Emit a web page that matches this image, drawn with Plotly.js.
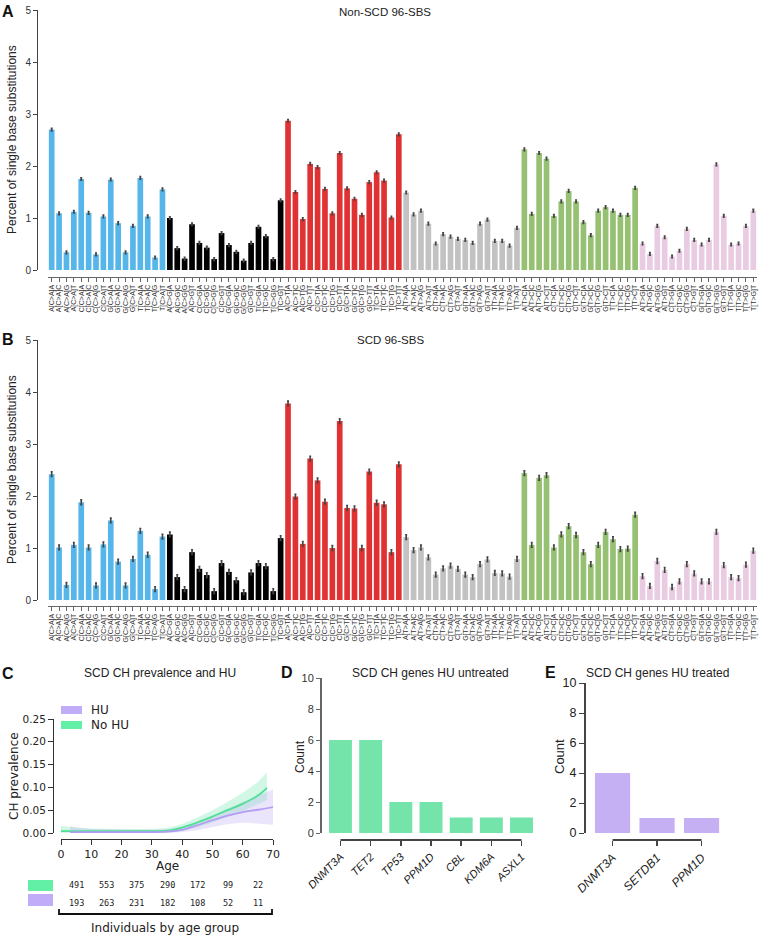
<!DOCTYPE html>
<html><head><meta charset="utf-8">
<script src="https://cdn.plot.ly/plotly-3.0.1.min.js"></script>
<style>html,body{margin:0;padding:0;background:#fff}#chart{width:767px;height:944px}</style>
</head><body><div id="chart"></div>
<script>
// ---------- DATA ----------
const mutationTypes = ['C>A','C>G','C>T','T>A','T>C','T>G'];
const flankBases = ['A','C','G','T'];
const nonScdSBS = [
2.70,1.09,0.34,1.12,1.75,1.10,0.30,1.03,1.74,0.90,0.34,0.85,1.77,1.03,0.24,1.55,
1.00,0.42,0.22,0.88,0.52,0.43,0.21,0.71,0.48,0.35,0.18,0.52,0.83,0.65,0.21,1.34,
2.87,1.50,0.98,2.04,1.98,1.56,1.09,2.25,1.57,1.37,1.06,1.69,1.88,1.72,1.01,2.61,
1.49,1.07,1.14,0.89,0.51,0.69,0.64,0.60,0.58,0.52,0.89,0.97,0.56,0.56,0.47,0.81,
2.32,1.08,2.25,2.14,1.04,1.32,1.52,1.32,0.92,0.67,1.14,1.21,1.14,1.06,1.06,1.58,
0.51,0.31,0.85,0.63,0.26,0.37,0.79,0.58,0.49,0.58,2.03,1.04,0.49,0.51,0.85,1.14];
const scdSBS = [
2.42,1.01,0.29,1.06,1.88,1.01,0.28,1.07,1.53,0.74,0.28,0.79,1.33,0.87,0.21,1.22,
1.26,0.44,0.21,0.92,0.60,0.48,0.17,0.71,0.54,0.38,0.15,0.53,0.71,0.65,0.17,1.19,
3.78,1.99,1.08,2.72,2.30,1.89,1.00,3.44,1.77,1.76,1.00,2.47,1.87,1.84,0.92,2.61,
1.21,0.96,1.01,0.82,0.49,0.61,0.66,0.60,0.49,0.44,0.69,0.78,0.52,0.51,0.45,0.79,
2.44,1.06,2.35,2.40,1.01,1.26,1.42,1.25,0.92,0.69,1.06,1.31,1.17,0.98,0.99,1.64,
0.46,0.27,0.75,0.58,0.25,0.36,0.69,0.51,0.36,0.36,1.31,0.67,0.44,0.42,0.68,0.95];

const noHuAge   = [0,5,10,15,20,25,30,35,40,45,50,55,60,65,68];
const noHuMean  = [0.004,0.004,0.004,0.004,0.004,0.004,0.004,0.005,0.012,0.023,0.036,0.050,0.064,0.082,0.099];
const noHuUpper = [0.016,0.012,0.010,0.009,0.009,0.009,0.009,0.011,0.020,0.034,0.050,0.068,0.088,0.112,0.133];
const noHuLower = [0,0,0,0,0,0,0,0.001,0.005,0.012,0.023,0.035,0.048,0.063,0.072];
const huAge   = [3,5,10,15,20,25,30,35,40,45,50,55,60,65,70];
const huMean  = [0.002,0.002,0.002,0.002,0.002,0.002,0.002,0.003,0.007,0.017,0.028,0.038,0.046,0.051,0.057];
const huUpper = [0.014,0.012,0.009,0.008,0.007,0.007,0.007,0.008,0.013,0.025,0.039,0.054,0.068,0.081,0.096];
const huLower = [0,0,0,0,0,0,0,0,0.002,0.006,0.013,0.019,0.023,0.021,0.018];
const ageGroupMid = [5,15,25,35,45,55,65];
const noHuCounts = [491,553,375,290,172,99,22];
const huCounts   = [193,263,231,182,108,52,11];

const untreatedGenes  = ['DNMT3A','TET2','TP53','PPM1D','CBL','KDM6A','ASXL1'];
const untreatedCounts = [6,6,2,2,1,1,1];
const treatedGenes  = ['DNMT3A','SETDB1','PPM1D'];
const treatedCounts = [4,1,1];

// ---------- BUILD ----------
const W = 767, H = 944;
const px = x => x / W, py = y => 1 - y / H;
const typeColors = ['#56b6e9','#000000','#e03232','#c2c2c2','#96c173','#e9cbe2'];
const labels = [], barColors = [];
mutationTypes.forEach((m, mi) => {
  flankBases.forEach(a => flankBases.forEach(b => {
    labels.push(a + '[' + m + ']' + b);
    barColors.push(typeColors[mi]);
  }));
});
const FONT = 'Liberation Sans, Arial, sans-serif';
const MPL = 'DejaVu Sans, sans-serif';
const GREEN = '#5fe6a1', PURPLE = '#b8a3f4';

function sbsTrace(vals, xa, ya, err) {
  return {type:'bar', x: labels, y: vals, xaxis: xa, yaxis: ya, width: 0.77,
    marker:{color: barColors, line:{width:0}},
    error_y:{type:'constant', value: err, color:'#444', thickness:1.6, width:1},
    showlegend:false, hoverinfo:'x+y'};
}
const traces = [
  sbsTrace(nonScdSBS, 'x', 'y', 0.025),
  sbsTrace(scdSBS, 'x2', 'y2', 0.045),
  {x: noHuAge, y: noHuLower, xaxis:'x3', yaxis:'y3', mode:'lines', line:{width:0, color:GREEN}, showlegend:false, hoverinfo:'skip'},
  {x: noHuAge, y: noHuUpper, xaxis:'x3', yaxis:'y3', mode:'lines', line:{width:0, color:GREEN}, fill:'tonexty', fillcolor:'rgba(95,230,161,0.28)', showlegend:false, hoverinfo:'skip'},
  {x: huAge, y: huLower, xaxis:'x3', yaxis:'y3', mode:'lines', line:{width:0, color:PURPLE}, showlegend:false, hoverinfo:'skip'},
  {x: huAge, y: huUpper, xaxis:'x3', yaxis:'y3', mode:'lines', line:{width:0, color:PURPLE}, fill:'tonexty', fillcolor:'rgba(184,163,244,0.28)', showlegend:false, hoverinfo:'skip'},
  {x: noHuAge, y: noHuMean, xaxis:'x3', yaxis:'y3', mode:'lines', line:{width:1.8, color:'#4fdf95', shape:'spline'}, name:'No HU', showlegend:false},
  {x: huAge, y: huMean, xaxis:'x3', yaxis:'y3', mode:'lines', line:{width:1.8, color:'#b39cf2', shape:'spline'}, name:'HU', showlegend:false},
  {type:'bar', x: untreatedGenes, y: untreatedCounts, xaxis:'x4', yaxis:'y4', width:0.76, marker:{color:'#74e4aa'}, showlegend:false},
  {type:'bar', x: treatedGenes, y: treatedCounts, xaxis:'x5', yaxis:'y5', width:0.79, marker:{color:'#c4b0f2'}, showlegend:false}
];

const axBase = {showgrid:false, zeroline:false, ticks:'outside', fixedrange:true};
const sbsX = (pos) => Object.assign({}, axBase, {domain:[px(48), px(757)], anchor:'free', position: pos, type:'category',
    categoryorder:'array', categoryarray: labels, range:[-0.5,95.5], showline:true, linecolor:'#666', linewidth:1,
    tickmode:'array', tickvals: labels, ticktext: labels,
    ticklen:4, tickcolor:'#666', tickangle:-90, tickfont:{size:7, color:'#333'}});
const layout = {
  width: W, height: H, margin:{l:0,r:0,t:0,b:0}, paper_bgcolor:'#fff', plot_bgcolor:'rgba(0,0,0,0)',
  font:{family: FONT, color:'#222'}, showlegend:false,
  xaxis: sbsX(py(277)),
  yaxis: Object.assign({}, axBase, {domain:[py(270), py(10)], anchor:'free', position: px(37), range:[0,5], dtick:1,
    showline:true, linecolor:'#444', linewidth:1, ticklen:4, tickcolor:'#444', tickfont:{size:10, color:'#333'}}),
  xaxis2: sbsX(py(606)),
  yaxis2: Object.assign({}, axBase, {domain:[py(600), py(340)], anchor:'free', position: px(37), range:[0,5], dtick:1,
    showline:true, linecolor:'#444', linewidth:1, ticklen:4, tickcolor:'#444', tickfont:{size:10, color:'#333'}}),
  xaxis3: Object.assign({}, axBase, {domain:[px(61), px(273)], anchor:'free', position: py(839), range:[0,70], dtick:10,
    showline:true, linecolor:'#333', linewidth:1.2, ticklen:5, tickcolor:'#333', tickfont:{size:11, family: MPL, color:'#222'}}),
  yaxis3: Object.assign({}, axBase, {domain:[py(833), py(719)], anchor:'free', position: px(53), range:[0,0.25], dtick:0.05,
    tickformat:'.2f', showline:true, linecolor:'#333', linewidth:1.2, ticklen:5, tickcolor:'#333', tickfont:{size:10.5, family: MPL, color:'#222'}}),
  xaxis4: Object.assign({}, axBase, {domain:[px(325.4), px(536.6)], anchor:'free', position: py(840), type:'category',
    range:[-0.5,6.5], showline:false, ticklen:5, tickcolor:'#444', tickwidth:1.5, tickangle:-45,
    tickvals: untreatedGenes, ticktext: untreatedGenes.map(g => '<i>' + g + '</i>'), tickfont:{size:11, color:'#222'}}),
  yaxis4: Object.assign({}, axBase, {domain:[py(833), py(678)], anchor:'free', position: px(320), range:[0,10], dtick:2,
    showline:true, linecolor:'#666', linewidth:1.5, ticklen:4, tickcolor:'#666', tickfont:{size:11, color:'#333'}}),
  xaxis5: Object.assign({}, axBase, {domain:[px(590.3), px(723.8)], anchor:'free', position: py(840), type:'category',
    range:[-0.5,2.5], showline:false, ticklen:5, tickcolor:'#444', tickwidth:1.5, tickangle:-45,
    tickvals: treatedGenes, ticktext: treatedGenes.map(g => '<i>' + g + '</i>'), tickfont:{size:12, color:'#222'}}),
  yaxis5: Object.assign({}, axBase, {domain:[py(833), py(683)], anchor:'free', position: px(585), range:[0,10], dtick:2,
    showline:true, linecolor:'#444', linewidth:2, ticklen:5, tickcolor:'#444', tickfont:{size:12.5, color:'#222'}}),
  shapes: [
    {type:'line', xref:'x4', yref:'paper', x0:0, x1:6, y0:py(840), y1:py(840), line:{color:'#444', width:2}},
    {type:'line', xref:'x5', yref:'paper', x0:0, x1:2, y0:py(840), y1:py(840), line:{color:'#444', width:2}},
    {type:'rect', xref:'paper', yref:'paper', x0:px(61), x1:px(82), y0:py(714), y1:py(706), fillcolor:'#c0acf8', line:{width:0}},
    {type:'rect', xref:'paper', yref:'paper', x0:px(61), x1:px(82), y0:py(729), y1:py(721), fillcolor:'#62f0a6', line:{width:0}},
    {type:'rect', xref:'paper', yref:'paper', x0:px(28), x1:px(53), y0:py(891), y1:py(880), fillcolor:'#62f0a6', line:{width:0}},
    {type:'rect', xref:'paper', yref:'paper', x0:px(28), x1:px(53), y0:py(906), y1:py(894), fillcolor:'#c0acf8', line:{width:0}},
    {type:'path', xref:'paper', yref:'paper',
      path:`M ${px(59)} ${py(909)} L ${px(59)} ${py(914)} L ${px(272)} ${py(914)} L ${px(272)} ${py(909)}`,
      line:{color:'#111', width:1.8}}
  ],
  annotations: []
};
const ann = layout.annotations;
function txt(x, y, text, opts) {
  ann.push(Object.assign({xref:'paper', yref:'paper', x:px(x), y:py(y), text:text, showarrow:false,
    xanchor:'center', yanchor:'middle', font:{family:FONT, size:12, color:'#222'}}, opts || {}));
}
[['A',8,12],['B',8,340],['C',8,673],['D',287,672],['E',550,672]].forEach(([t,x,y]) =>
  txt(x, y, '<b>' + t + '</b>', {font:{family:FONT, size:16, color:'#111'}}));
txt(385, 12, 'Non-SCD 96-SBS', {font:{family:FONT, size:11.5, color:'#222'}});
txt(390, 340, 'SCD 96-SBS', {font:{family:FONT, size:11.5, color:'#222'}});
txt(160, 673, 'SCD CH prevalence and HU', {font:{family:FONT, size:12, color:'#222'}});
txt(430, 673, 'SCD CH genes HU untreated', {font:{family:FONT, size:12, color:'#222'}});
txt(657, 673, 'SCD CH genes HU treated', {font:{family:FONT, size:12, color:'#222'}});
txt(12, 140, 'Percent of single base substitutions', {textangle:-90, font:{family:FONT, size:12, color:'#222'}});
txt(12, 470, 'Percent of single base substitutions', {textangle:-90, font:{family:FONT, size:12, color:'#222'}});
txt(14, 776, 'CH prevalence', {textangle:-90, font:{family:MPL, size:12, color:'#222'}});
txt(300, 757, 'Count', {textangle:-90, font:{family:FONT, size:12, color:'#222'}});
txt(559, 757, 'Count', {textangle:-90, font:{family:FONT, size:13, color:'#222'}});
txt(167, 866, 'Age', {font:{family:MPL, size:12, color:'#222'}});
txt(89, 710, 'HU', {xanchor:'left', font:{family:MPL, size:12, color:'#222'}});
txt(89, 725, 'No HU', {xanchor:'left', font:{family:MPL, size:12, color:'#222'}});
ageGroupMid.forEach((a, i) => {
  ann.push({xref:'x3', yref:'paper', x:a, y:py(885), text:String(noHuCounts[i]), showarrow:false,
    xanchor:'center', yanchor:'middle', font:{family:'DejaVu Sans Mono, monospace', size:8.5, color:'#222'}});
  ann.push({xref:'x3', yref:'paper', x:a, y:py(903), text:String(huCounts[i]), showarrow:false,
    xanchor:'center', yanchor:'middle', font:{family:'DejaVu Sans Mono, monospace', size:8.5, color:'#222'}});
});
txt(165, 928, 'Individuals by age group', {font:{family:MPL, size:12, color:'#222'}});

Plotly.newPlot('chart', traces, layout, {staticPlot:true, displayModeBar:false});
</script></body></html>
